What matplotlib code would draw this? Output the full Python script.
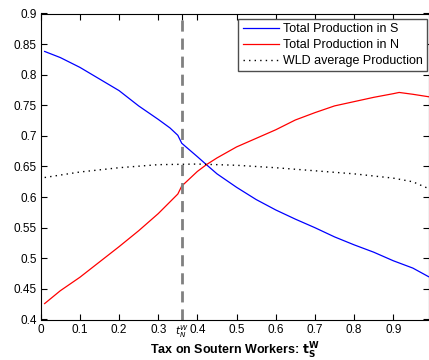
import matplotlib
matplotlib.use("Agg")
import matplotlib.pyplot as plt

# tax rate on southern workers
tax_s = [0.01, 0.05, 0.10, 0.15, 0.20, 0.25, 0.30, 0.33, 0.35, 0.36, 0.40, 0.423,
         0.45, 0.50, 0.55, 0.60, 0.65, 0.70, 0.75, 0.80, 0.85, 0.90, 0.95, 0.99]
prod_s = [0.838, 0.828, 0.812, 0.793, 0.774, 0.749, 0.727, 0.713, 0.701, 0.688, 0.666, 0.653,
          0.638, 0.616, 0.596, 0.579, 0.564, 0.550, 0.535, 0.522, 0.510, 0.496, 0.484, 0.470]

tax_n = [0.01, 0.05, 0.10, 0.15, 0.20, 0.25, 0.30, 0.35, 0.36, 0.40, 0.423, 0.45,
         0.50, 0.55, 0.60, 0.65, 0.70, 0.75, 0.80, 0.85, 0.90, 0.915, 0.95, 0.99]
prod_n = [0.426, 0.447, 0.469, 0.494, 0.519, 0.545, 0.573, 0.605, 0.618, 0.642, 0.653, 0.664,
          0.682, 0.696, 0.710, 0.726, 0.738, 0.749, 0.756, 0.763, 0.769, 0.771, 0.768, 0.764]

tax_w = [0.01, 0.10, 0.20, 0.30, 0.40, 0.50, 0.60, 0.70, 0.80, 0.90, 0.95, 0.99]
prod_w = [0.632, 0.641, 0.648, 0.653, 0.654, 0.652, 0.648, 0.643, 0.638, 0.631, 0.625, 0.614]

t_n_w = 0.361  # northern tax marker
xticks = [0, 0.1, 0.2, 0.3, 0.4, 0.5, 0.6, 0.7, 0.8, 0.9]
yticks = [0.4, 0.45, 0.5, 0.55, 0.6, 0.65, 0.7, 0.75, 0.8, 0.85, 0.9]

plt.rcParams['font.family'] = ['Liberation Sans', 'DejaVu Sans']

fig = plt.figure(figsize=(4.29, 3.6), dpi=100)
ax = fig.add_axes([0.0949, 0.1125, 0.904, 0.85])

ax.plot(tax_s, prod_s, color='#0000ff', lw=0.9, label='Total Production in S')
ax.plot(tax_n, prod_n, color='#ff0000', lw=0.9, label='Total Production in N')
ax.plot(tax_w, prod_w, color='black', lw=1.0, linestyle=(0, (1, 3)),
        label='WLD average Production')
ax.axvline(t_n_w, color='0.5', lw=2, linestyle=(0, (4, 2.5)))

ax.set_xlim(0, 0.99)
ax.set_ylim(0.4, 0.9)

ax.set_xticks(xticks + [t_n_w])
ax.set_xticklabels(['0', '0.1', '0.2', '0.3', '0.4', '0.5', '0.6', '0.7', '0.8', '0.9',
                    r'$t^W_N$'])
ax.set_yticks(yticks)
ax.set_yticklabels(['0.4', '0.45', '0.5', '0.55', '0.6', '0.65', '0.7', '0.75', '0.8',
                    '0.85', '0.9'])
ax.tick_params(direction='in', top=True, right=True, length=4, width=0.8,
               labelsize=8.5, pad=3)
ax.get_xticklabels()[-1].set_fontsize(7.5)
for sp in ax.spines.values():
    sp.set_linewidth(0.8)

ax.set_xlabel(r'Tax on Soutern Workers: $\mathbf{t^W_S}$', fontsize=9,
              fontweight='bold', labelpad=0)

leg = ax.legend(loc='upper right', bbox_to_anchor=(0.996, 0.982), fontsize=9,
                handlelength=2.9, handletextpad=0.3, labelspacing=0.3,
                borderpad=0.35, fancybox=False, framealpha=1, borderaxespad=0)
leg.get_frame().set_edgecolor('0.3')
leg.get_frame().set_linewidth(1.0)

plt.savefig('out.png', dpi=100)
